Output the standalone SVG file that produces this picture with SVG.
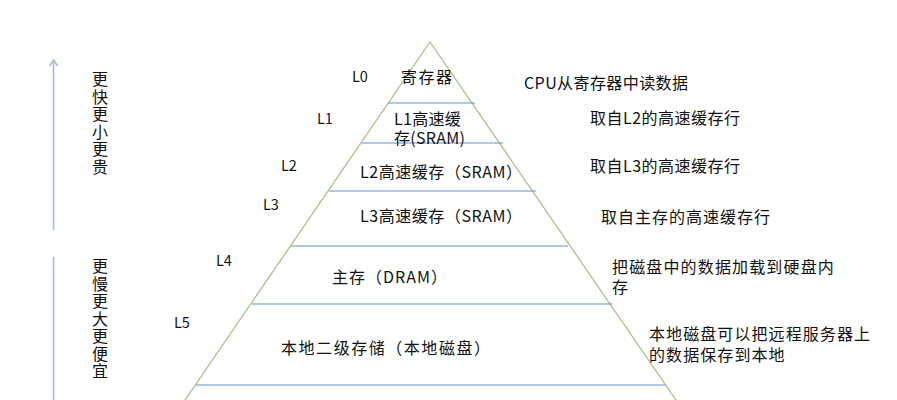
<svg xmlns="http://www.w3.org/2000/svg" width="897" height="400" viewBox="0 0 897 400">
<style>
  text { font-family: "Noto Sans CJK SC", "Liberation Sans", sans-serif; fill: #111; }
  .cn { font-size: 16px; }
  .lv { font-size: 14.5px; }
  .vert { font-size: 16px; writing-mode: vertical-rl; letter-spacing: 1.5px; }
  .edge { fill: none; stroke: #9fbf78; stroke-width: 1.2; }
  .sep { stroke: #5f93c9; stroke-width: 1.2; }
  .axis { fill: none; stroke: #9dc0e0; stroke-width: 1.6; }
</style>
<rect width="897" height="400" fill="#ffffff"/>

<g id="pyramid">
  <polyline class="edge" points="185,400 430,42 676,400"/>
  <line class="sep" x1="388" y1="103" x2="475" y2="103"/>
  <line class="sep" x1="362" y1="143" x2="503" y2="143"/>
  <line class="sep" x1="329" y1="191" x2="536" y2="191"/>
  <line class="sep" x1="291" y1="246" x2="568" y2="246"/>
  <line class="sep" x1="252" y1="304" x2="612" y2="304"/>
  <line class="sep" x1="196" y1="385" x2="665" y2="385"/>
</g>

<g id="L0">
  <text class="lv" x="352" y="82">L0</text>
  <text class="cn" x="401" y="83" textLength="51" lengthAdjust="spacing">寄存器</text>
  <text class="cn" x="524" y="89" textLength="164" lengthAdjust="spacing">CPU从寄存器中读数据</text>
</g>

<g id="L1">
  <text class="lv" x="317" y="124">L1</text>
  <text class="cn"><tspan x="394" y="125" letter-spacing="0.3">L1高速缓</tspan><tspan x="394" y="144" letter-spacing="0.3">存(SRAM)</tspan></text>
  <text class="cn" x="590" y="124" textLength="150" lengthAdjust="spacing">取自L2的高速缓存行</text>
</g>

<g id="L2">
  <text class="lv" x="281" y="171">L2</text>
  <text class="cn" x="360" y="178" textLength="162" lengthAdjust="spacing">L2高速缓存（SRAM）</text>
  <text class="cn" x="590" y="172" textLength="150" lengthAdjust="spacing">取自L3的高速缓存行</text>
</g>

<g id="L3">
  <text class="lv" x="263" y="210">L3</text>
  <text class="cn" x="360" y="222" textLength="162" lengthAdjust="spacing">L3高速缓存（SRAM）</text>
  <text class="cn" x="601" y="223" textLength="169" lengthAdjust="spacing">取自主存的高速缓存行</text>
</g>

<g id="L4">
  <text class="lv" x="216" y="266">L4</text>
  <text class="cn" x="332" y="283" textLength="115" lengthAdjust="spacing">主存（DRAM）</text>
  <text class="cn" letter-spacing="1.15"><tspan x="612" y="273">把磁盘中的数据加载到硬盘内</tspan><tspan x="612" y="293">存</tspan></text>
</g>

<g id="L5">
  <text class="lv" x="174" y="328">L5</text>
  <text class="cn" x="281" y="354" textLength="209" lengthAdjust="spacing">本地二级存储（本地磁盘）</text>
  <text class="cn" letter-spacing="1.08"><tspan x="649" y="340">本地磁盘可以把远程服务器上</tspan><tspan x="649" y="361">的数据保存到本地</tspan></text>
</g>

<g id="connectors">
  <line class="axis" x1="53.5" y1="230" x2="53.5" y2="61"/>
  <polyline class="axis" points="49.5,66 53.5,60 57.5,66"/>
  <line class="axis" x1="53.5" y1="257" x2="53.5" y2="400"/>
</g>

<g id="faster-label">
  <text class="vert" x="100" y="71">更快更小更贵</text>
</g>

<g id="slower-label">
  <text class="vert" x="100" y="258">更慢更大更便宜</text>
</g>
</svg>
